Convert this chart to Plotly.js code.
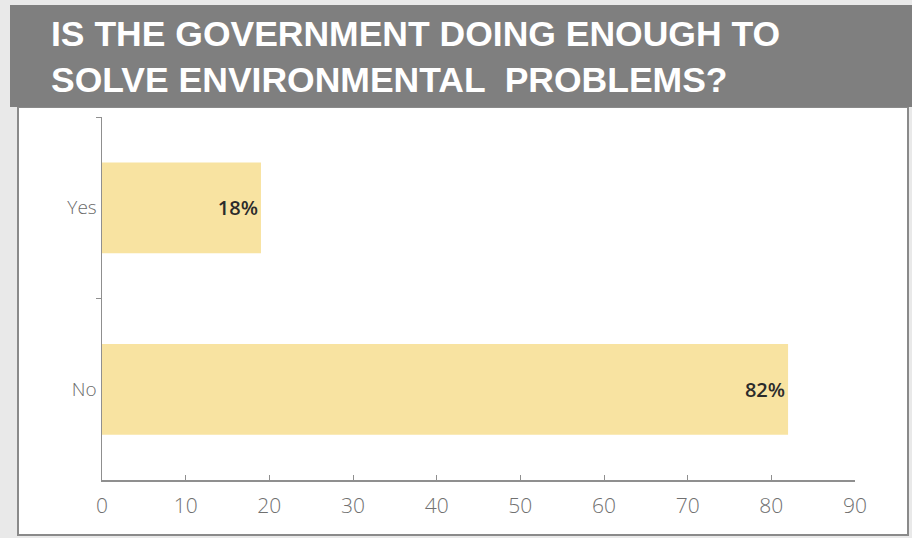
<!DOCTYPE html>
<html><head><meta charset="utf-8">
<script src="https://cdn.plot.ly/plotly-3.0.1.min.js"></script>
<style>html,body{margin:0;padding:0;background:#e9e9e9;}#chart{width:912px;height:538px;}</style>
</head><body><div id="chart"></div>
<script>
var categories = ['Yes', 'No'];
var values = [19, 82];
var labels = ['18%', '82%'];
var xTicks = [0, 10, 20, 30, 40, 50, 60, 70, 80, 90];
var titleText = 'IS THE GOVERNMENT DOING ENOUGH TO<br>SOLVE ENVIRONMENTAL  PROBLEMS?';

var W = 912, H = 538, L = 102, R = 57, T = 117, B = 58;
var pw = W - L - R, ph = H - T - B;
function px(x){ return (x - L) / pw; }
function py(y){ return (H - B - y) / ph; }

var trace = {
  type: 'bar', orientation: 'h',
  y: categories, x: values,
  text: labels, textposition: 'inside', insidetextanchor: 'end',
  textfont: {family: 'Open Sans, sans-serif', size: 20, color: '#2b2b2b', weight: 600},
  marker: {color: '#f8e3a1', line: {width: 0}},
  width: 0.5, hoverinfo: 'skip'
};

var layout = {
  width: W, height: H,
  margin: {l: L, r: R, t: T, b: B, pad: 0},
  paper_bgcolor: '#e9e9e9', plot_bgcolor: '#ffffff',
  showlegend: false,
  xaxis: {
    range: [0, 90], tickvals: xTicks, ticktext: xTicks.map(String),
    showgrid: false, zeroline: false, showline: true, linecolor: '#8f8f8f', linewidth: 1.5,
    ticks: 'inside', ticklen: 5, tickcolor: '#8f8f8f', ticklabelstandoff: 6,
    tickfont: {family: 'Open Sans, sans-serif', size: 21, color: '#707070', weight: 300}
  },
  yaxis: {
    autorange: 'reversed', showgrid: false, zeroline: false,
    showline: true, linecolor: '#8f8f8f', linewidth: 1.5,
    ticks: 'outside', tickson: 'boundaries', ticklen: 5, tickcolor: '#8f8f8f',
    tickfont: {family: 'Open Sans, sans-serif', size: 19, color: '#6a6a6a', weight: 300}
  },
  annotations: [
    {text: titleText, xref: 'paper', yref: 'paper', x: px(49), y: py(57),
     xanchor: 'left', yanchor: 'middle', align: 'left', showarrow: false,
     font: {family: 'Liberation Sans, Arial, sans-serif', size: 35.5, color: '#ffffff', weight: 700}}
  ],
  shapes: [
    {type: 'rect', xref: 'paper', yref: 'paper', layer: 'below',
     x0: px(18), x1: px(908), y0: py(535), y1: py(107),
     fillcolor: '#ffffff', line: {color: '#8a8a8a', width: 2}},
    {type: 'rect', xref: 'paper', yref: 'paper', layer: 'below',
     x0: px(10), x1: px(914), y0: py(107), y1: py(5),
     fillcolor: '#7f7f7f', line: {width: 0}}
  ]
};

Plotly.newPlot('chart', [trace], layout, {displayModeBar: false, staticPlot: true});
</script></body></html>
